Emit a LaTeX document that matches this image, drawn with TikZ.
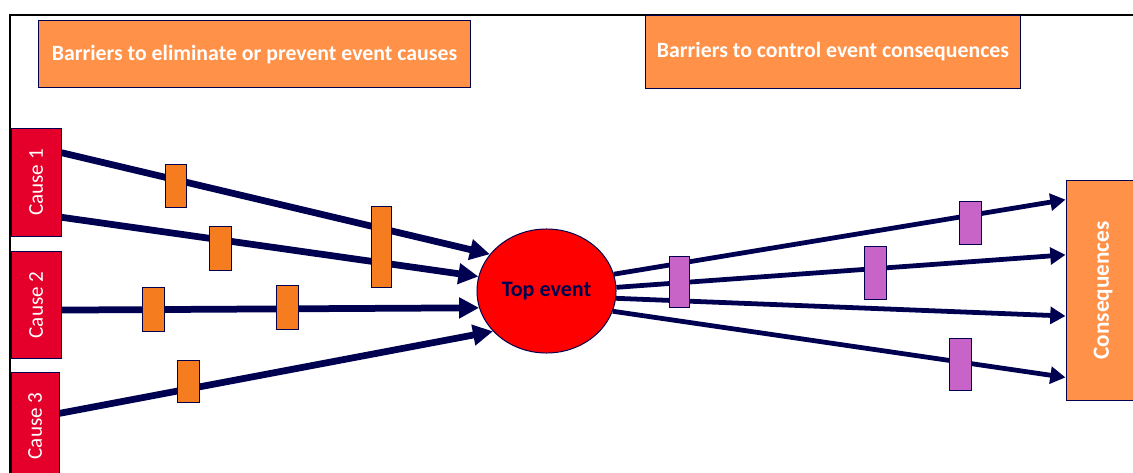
\documentclass[tikz,border=0pt]{standalone}
\usepackage{fontspec}
\setmainfont{Carlito}
\usetikzlibrary{shapes.geometric,arrows.meta,calc}
\definecolor{navy}{RGB}{0,0,80}
\definecolor{headorange}{RGB}{255,145,72}
\definecolor{barorange}{RGB}{245,125,32}
\definecolor{barpurple}{RGB}{200,100,200}
\definecolor{causered}{RGB}{228,0,43}
\definecolor{topred}{RGB}{255,0,0}

\begin{document}
\begin{tikzpicture}[x=0.025cm,y=-0.025cm,
        every node/.style={font=\fontsize{15}{18}\selectfont},
        header/.style={draw=navy,line width=0.7pt,fill=headorange,text=white,inner sep=0pt,font=\fontsize{15.5}{18}\selectfont\bfseries},
        cause/.style={draw=navy,line width=0.7pt,fill=causered,text=white,minimum width=1.25cm,minimum height=2.675cm,inner sep=0pt},
        barrier/.style={draw=navy,line width=0.7pt,fill=barorange,minimum width=0.55cm,inner sep=0pt},
        control/.style={draw=navy,line width=0.7pt,fill=barpurple,minimum width=0.55cm,inner sep=0pt},
        causeline/.style={navy,line width=4.8pt,-{Triangle[length=0.5cm,width=0.5cm]}},
        conline/.style={navy,line width=3.4pt,-{Triangle[length=0.38cm,width=0.42cm]}}]
            \clip (0,0) rectangle (1133,473);
            \draw[line width=1.4pt] (10,480)--(10,15)--(1140,15);

            \node[header,minimum width=10.775cm,minimum height=1.68cm] (hcause) at (254.5,54.3) {Barriers to eliminate or prevent event causes};
            \node[header,minimum width=9.35cm,minimum height=1.8cm] (hcons) at (833,52) {Barriers to control event consequences};

            \node[cause] (c1) at (36,182.5) {\rotatebox{90}{Cause 1}};
            \node[cause] (c2) at (36,305) {\rotatebox{90}{Cause 2}};
            \node[cause,minimum width=1.2cm] (c3) at (35,426) {\rotatebox{90}{Cause 3}};

            \node[ellipse,draw=navy,line width=0.7pt,fill=topred,minimum width=3.475cm,minimum height=3.1cm,inner sep=0pt,text=navy,font=\fontsize{15.7}{18}\selectfont\bfseries] (top) at (546.5,291) {Top event};
            \node[header,minimum width=1.85cm,minimum height=5.475cm,font=\fontsize{16.5}{18}\selectfont\bfseries] (cons) at (1103,290.5) {\rotatebox{90}{Consequences}};

            % causes to top event
            \draw[causeline] ($(c1.north east)!0.224!(c1.south east)$)--(top.147);
            \draw[causeline] ($(c1.north east)!0.822!(c1.south east)$)--(top.168);
            \draw[causeline] ($(c2.north east)!0.547!(c2.south east)$)--(top.194);
            \draw[causeline] ($(c3.north east)!0.383!(c3.south east)$)--(top.217);

            % top event to consequences
            \draw[conline] (top.14)--($(cons.north west)!0.087!(cons.south west)$);
            \draw[conline] (top.3)--($(cons.north west)!0.338!(cons.south west)$);
            \draw[conline] (top.354)--($(cons.north west)!0.616!(cons.south west)$);
            \draw[conline] (top.343)--($(cons.north west)!0.895!(cons.south west)$);

            % barriers
            \node[barrier,minimum width=0.525cm,minimum height=1.075cm] (b1) at (176,186) {};
            \node[barrier,minimum width=0.5cm,minimum height=2cm] (b2) at (381,247) {};
            \node[barrier,minimum height=1.1cm] (b3) at (220,248) {};
            \node[barrier,minimum height=1.1cm] (b4) at (153,309) {};
            \node[barrier,minimum height=1.1cm] (b5) at (287,307) {};
            \node[barrier,minimum height=1.05cm] (b6) at (188,381) {};

            \node[control,minimum width=0.5cm,minimum height=1.275cm] (p1) at (679,281.5) {};
            \node[control,minimum height=1.075cm] (p2) at (970,222.5) {};
            \node[control,minimum height=1.325cm] (p3) at (875,272.5) {};
            \node[control,minimum height=1.3cm] (p4) at (960,364) {};
        \end{tikzpicture}
\end{document}
